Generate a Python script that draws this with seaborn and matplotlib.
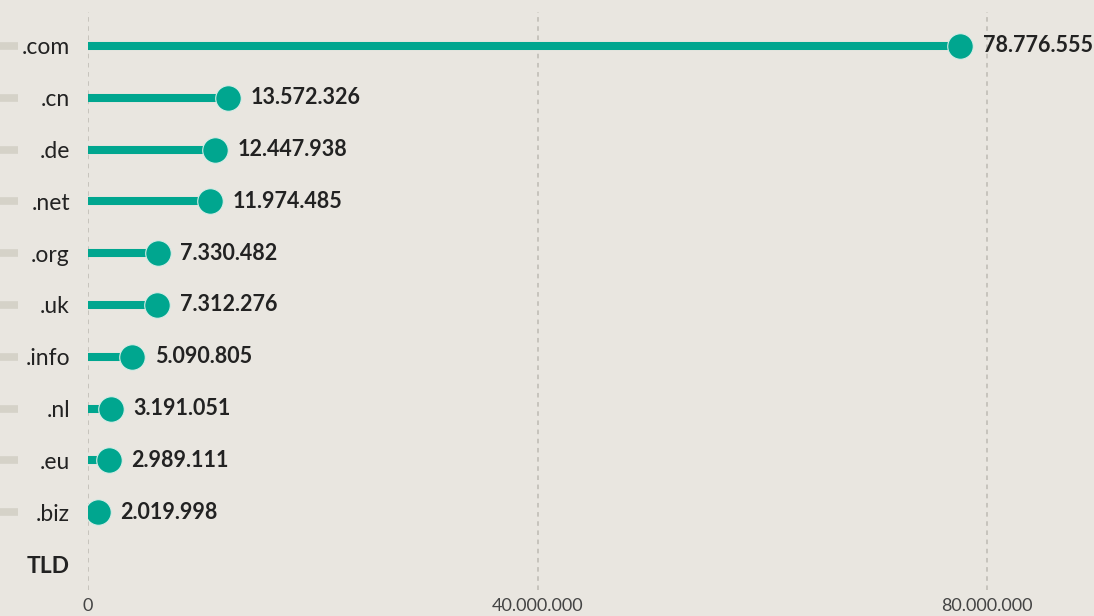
import matplotlib
matplotlib.use("Agg")
import matplotlib.pyplot as plt
from matplotlib.transforms import ScaledTranslation, blended_transform_factory
import seaborn as sns
import pandas as pd

categories = [".com", ".cn", ".de", ".net", ".org", ".uk", ".info", ".nl", ".eu", ".biz"]
values = [78776555, 13572326, 12447938, 11974485, 7330482, 7312276, 5090805, 3191051, 2989111, 2019998]
axis_title = "TLD"
xticks = [0, 40000000, 80000000]
xtick_labels = ["0", "40.000.000", "80.000.000"]

BG = "#e9e6e0"
TEAL = "#00a68f"
TEXT = "#222222"

sns.set_theme(style="white")
plt.rcParams["font.family"] = ["Lato", "DejaVu Sans"]

df = pd.DataFrame({"tld": categories, "value": values, "pos": range(len(categories))})

fig = plt.figure(figsize=(10.94, 6.16), dpi=100, facecolor=BG)
ax = fig.add_axes([88 / 1094, 26 / 616, 1006 / 1094, 578 / 616])
ax.set_facecolor(BG)

n = len(categories) + 1
ax.set_xlim(0, 80000000 * 1006 / 899)
ax.set_ylim(n - 0.5, -0.654)

# grid
for xt in xticks:
    ax.axvline(xt, color="#bdbab3", lw=1.1, ls=(0, (3, 3)), zorder=0)

# stems
ax.hlines(df["pos"], 0, df["value"], color=TEAL, lw=5.8, zorder=2, capstyle="butt")

# dots (right edge of the dot sits at the value)
radius_pt = 9.2
sns.scatterplot(data=df, x="value", y="pos", ax=ax, s=(2 * radius_pt) ** 2,
                color=TEAL, edgecolor="#d8ece6", linewidth=0.8, zorder=3, legend=False)
coll = ax.collections[-1]
coll.set_offset_transform(ax.transData + ScaledTranslation(-radius_pt / 72, 0, fig.dpi_scale_trans))

# value labels
for p, v in zip(df["pos"], df["value"]):
    ax.annotate(f"{v:,}".replace(",", "."), (v, p), xytext=(7, 0), textcoords="offset points",
                ha="left", va="center", fontsize=15.5, fontweight="bold", color=TEXT, zorder=4)

# y labels
ax.set_yticks(list(range(n)))
ax.set_yticklabels(categories + [axis_title], fontsize=16.5, color=TEXT)
ax.get_yticklabels()[-1].set_fontweight("bold")
ax.tick_params(axis="y", length=0, pad=13)

# x ticks
ax.set_xticks(xticks)
ax.set_xticklabels(xtick_labels, fontsize=13, color="#444444")
ax.tick_params(axis="x", length=0, pad=6)
ax.set_xlabel("")
ax.set_ylabel("")
for s in ax.spines.values():
    s.set_visible(False)

# small grey markers at the left edge
tr = blended_transform_factory(fig.transFigure, ax.transData)
for p in df["pos"]:
    ax.plot([0, 18 / 1094], [p, p], transform=tr, color="#d5d2c8", lw=5.5, clip_on=False,
            solid_capstyle="butt")

fig.savefig("out.png", dpi=100, facecolor=BG)
